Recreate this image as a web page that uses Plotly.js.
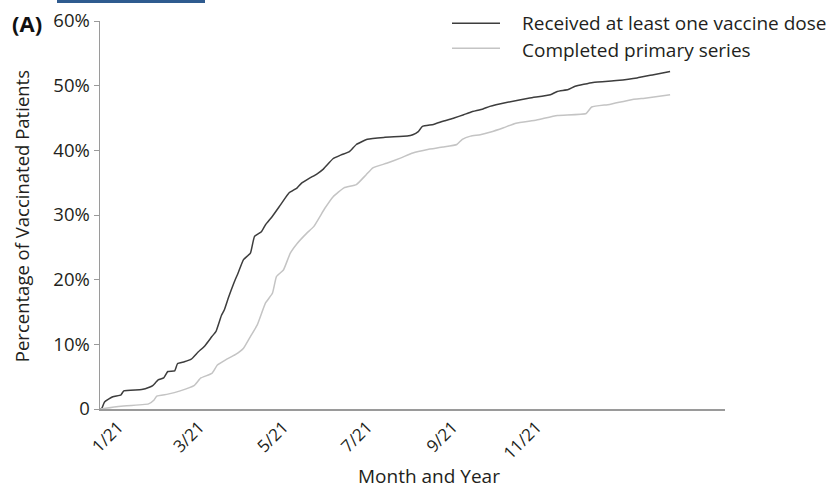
<!DOCTYPE html>
<html>
<head>
<meta charset="utf-8">
<script src="https://cdn.plot.ly/plotly-3.0.1.min.js"></script>
<style>html,body{margin:0;padding:0;background:#fff;}#chart{width:835px;height:489px;}</style>
</head>
<body>
<div id="chart"></div>
<script>
// x values: days since 1 January 2021
const oneDoseDays = [-13,-12,-10,-4,2,4,17,23,25,29,33,36,41,43,48,53,58,63,68,71,75,77,80,84,87,91,96,99,104,107,112,118,124,130,133,139,144,149,156,162,168,173,181,193,210,214,218,221,229,236,244,251,256,265,270,282,299,314,319,327,332,345,362,377,389,401];
const oneDoseValues = [0,0.1,1.1,1.9,2.2,2.8,3.0,3.4,3.6,4.5,4.8,5.8,5.9,7.0,7.3,7.7,8.8,9.8,11.2,12.0,14.5,15.3,17.2,19.5,21.0,23.1,24.1,26.7,27.4,28.5,29.8,31.6,33.4,34.2,34.9,35.7,36.3,37.1,38.7,39.3,39.8,40.9,41.7,42.0,42.2,42.4,42.9,43.7,44.0,44.5,45.0,45.5,45.9,46.4,46.8,47.4,48.1,48.6,49.1,49.4,49.9,50.5,50.8,51.2,51.7,52.2];

const primaryDays = [-13,0,22,26,28,36,45,55,60,68,72,78,85,91,96,101,107,112,115,120,125,130,137,142,150,156,164,173,180,185,195,205,214,224,236,246,250,256,263,270,280,289,304,319,340,344,357,372,384,401];
const primaryValues = [0,0.4,0.8,1.4,2.0,2.3,2.8,3.6,4.8,5.5,6.8,7.6,8.4,9.4,11.2,13.0,16.4,17.9,20.5,21.5,24.1,25.6,27.2,28.2,31.0,32.8,34.2,34.7,36.2,37.3,38.0,38.8,39.6,40.1,40.5,40.9,41.7,42.2,42.4,42.8,43.5,44.2,44.7,45.4,45.7,46.7,47.1,47.8,48.1,48.6];

const tickDays = [0,59,120,181,243,304];
const tickLabels = ['1/21','3/21','5/21','7/21','9/21','11/21'];
const yTickValues = [0,10,20,30,40,50,60];
const yTickLabels = ['0','10%','20%','30%','40%','50%','60%'];
const seriesNames = ['Received at least one vaccine dose','Completed primary series'];
const seriesColors = ['#3d3d3d','#c4c4c4'];

const FONT = 'Open Sans, Noto Sans, sans-serif';
const TXT = '#231f20';

const traces = [0,1].map(i => ({
  x: i === 0 ? oneDoseDays : primaryDays,
  y: i === 0 ? oneDoseValues : primaryValues,
  type: 'scatter', mode: 'lines', name: seriesNames[i], showlegend: false,
  line: {color: seriesColors[i], width: 1.5, shape: 'spline', smoothing: 0.4}
}));

// hand-drawn legend (line swatch + label) placed like the reference
const legendY = [0.994, 0.930];
const legendTextY = [0.996, 0.925];
const legendShapes = [0,1].map(i => ({type: 'line', xref: 'paper', yref: 'paper',
  x0: 0.5632, x1: 0.64, y0: legendY[i], y1: legendY[i], line: {color: seriesColors[i], width: 1.5}}));
const legendLabels = [0,1].map(i => ({text: seriesNames[i], xref: 'paper', yref: 'paper',
  x: 0.6720, y: legendTextY[i], xanchor: 'left', yanchor: 'middle', showarrow: false,
  font: {family: FONT, size: 19, color: TXT}}));

const layout = {
  width: 835, height: 489,
  margin: {l: 100, r: 110, t: 21, b: 80},
  paper_bgcolor: '#fff', plot_bgcolor: '#fff',
  font: {family: FONT, color: TXT, size: 19},
  showlegend: false,
  xaxis: {
    range: [-13.3, 440.9], tickmode: 'array', tickvals: tickDays, ticktext: tickLabels,
    tickangle: -45, showgrid: false, zeroline: false, showline: true, linecolor: '#9a9a9a',
    linewidth: 1.5, ticks: '', tickfont: {family: FONT, size: 17, color: TXT}
  },
  yaxis: {
    range: [0, 60], tickmode: 'array', tickvals: yTickValues, ticktext: yTickLabels,
    showgrid: false, zeroline: false, showline: true, linecolor: '#9a9a9a', linewidth: 1.5,
    ticks: 'outside', ticklen: 5, tickcolor: '#9a9a9a', tickfont: {family: FONT, size: 18.5, color: TXT}
  },
  annotations: [
    {text: 'Month and Year', xref: 'paper', yref: 'paper', x: 0.5264, y: -0.172, xanchor: 'center', yanchor: 'middle',
     showarrow: false, font: {family: FONT, size: 19, color: TXT}},
    {text: 'Percentage of Vaccinated Patients', xref: 'paper', yref: 'paper', x: -0.1264, y: 0.497, textangle: -90,
     xanchor: 'center', yanchor: 'middle', showarrow: false, font: {family: FONT, size: 18.5, color: TXT}},
    {text: '<b>(A)</b>', xref: 'paper', yref: 'paper', x: -0.1168, y: 0.995, xanchor: 'center', yanchor: 'middle',
     showarrow: false, font: {family: FONT, size: 22, color: '#111'}}
  ].concat(legendLabels),
  shapes: [
    {type: 'rect', xref: 'paper', yref: 'paper', x0: -0.0688, x1: 0.168, y0: 1.0464, y1: 1.056,
     fillcolor: '#2f5b8f', line: {width: 0}}
  ].concat(legendShapes)
};

Plotly.newPlot('chart', traces, layout, {displayModeBar: false, staticPlot: true});
</script>
</body>
</html>
